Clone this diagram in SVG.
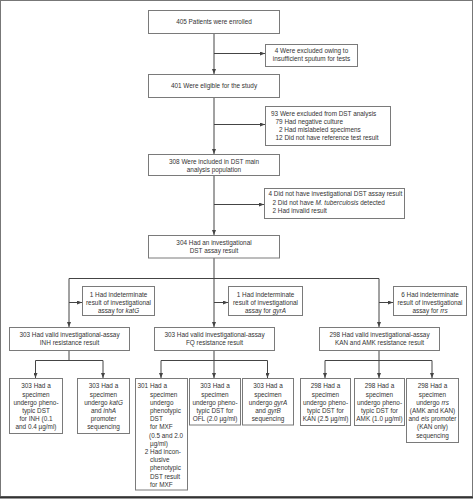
<svg xmlns="http://www.w3.org/2000/svg" width="476" height="500" viewBox="0 0 476 500">
<style>
.box{fill:#fff;stroke:#7a7a7a;stroke-width:1}
.t{font-family:"Liberation Sans",Arial,sans-serif;font-size:6.4px;fill:#333}
.c{text-anchor:middle}
.ln{stroke:#444;stroke-width:1;fill:none}
.i{font-style:italic}
</style>
<defs>
<marker id="a" markerWidth="5" markerHeight="4" refX="5" refY="2" orient="auto" markerUnits="userSpaceOnUse"><path d="M0,0 L5,2 L0,4 z" fill="#444"/></marker>
</defs>
<rect x="0.5" y="0.5" width="472" height="496" fill="#fff" stroke="#777" stroke-width="1"/>
<line x1="0" y1="497.5" x2="473" y2="497.5" stroke="#333" stroke-width="2"/>

<g id="connectors" class="ln">
<path d="M214,33 V74" marker-end="url(#a)"/>
<path d="M214,53.5 H265" marker-end="url(#a)"/>
<path d="M214,97 V154" marker-end="url(#a)"/>
<path d="M214,124.5 H265" marker-end="url(#a)"/>
<path d="M214,175 V235" marker-end="url(#a)"/>
<path d="M214,204.5 H264" marker-end="url(#a)"/>
<path d="M214,258 V327" marker-end="url(#a)"/>
<path d="M69,278.5 H379"/>
<path d="M69,278.5 V327" marker-end="url(#a)"/>
<path d="M379,278.5 V327" marker-end="url(#a)"/>
<path d="M69,302.5 H82" marker-end="url(#a)"/>
<path d="M214,302.5 H228" marker-end="url(#a)"/>
<path d="M379,302.5 H393" marker-end="url(#a)"/>
<path d="M69,350 V360.5"/>
<path d="M35.5,360.5 H103"/>
<path d="M35.5,360.5 V378" marker-end="url(#a)"/>
<path d="M103,360.5 V378" marker-end="url(#a)"/>
<path d="M161,360.5 H267.5"/>
<path d="M161,360.5 V378" marker-end="url(#a)"/>
<path d="M214,350 V378" marker-end="url(#a)"/>
<path d="M267.5,360.5 V378" marker-end="url(#a)"/>
<path d="M379,350 V378" marker-end="url(#a)"/>
<path d="M325,360.5 H432"/>
<path d="M325,360.5 V378" marker-end="url(#a)"/>
<path d="M432,360.5 V378" marker-end="url(#a)"/>
</g>

<g id="n1"><rect class="box" x="148.5" y="10.5" width="131" height="23"/>
<text class="t c" x="214" y="23.8">405 Patients were enrolled</text></g>

<g id="n2"><rect class="box" x="265.5" y="44.5" width="92" height="22"/>
<text class="t c" x="311.5" y="53.2">4 Were excluded owing to</text>
<text class="t c" x="311.5" y="61.4">insufficient sputum for tests</text></g>

<g id="n3"><rect class="box" x="148.5" y="74.5" width="131" height="23"/>
<text class="t c" x="214" y="87.8">401 Were eligible for the study</text></g>

<g id="n4"><rect class="box" x="265.5" y="106.5" width="125" height="39"/>
<text class="t" x="271" y="115.6">93 Were excluded from DST analysis</text>
<text class="t" x="275.5" y="123.8">79 Had negative culture</text>
<text class="t" x="279" y="132">2 Had mislabeled specimens</text>
<text class="t" x="275.5" y="140.2">12 Did not have reference test result</text></g>

<g id="n5"><rect class="box" x="148.5" y="154.5" width="131" height="21"/>
<text class="t c" x="214" y="164">308 Were included in DST main</text>
<text class="t c" x="214" y="172.3">analysis population</text></g>

<g id="n6"><rect class="box" x="264.5" y="188.5" width="140" height="30"/>
<text class="t" x="268.5" y="196.3">4 Did not have investigational DST assay result</text>
<text class="t" x="272.5" y="204.5">2 Did not have <tspan class="i">M. tuberculosis</tspan> detected</text>
<text class="t" x="272.5" y="212.7">2 Had invalid result</text></g>

<g id="n7"><rect class="box" x="148.5" y="235.5" width="131" height="22.5"/>
<text class="t c" x="214" y="245">304 Had an investigational</text>
<text class="t c" x="214" y="253.2">DST assay result</text></g>

<g id="n8"><rect class="box" x="82.5" y="286.5" width="72" height="29"/>
<text class="t c" x="118.5" y="296.5">1 Had indeterminate</text>
<text class="t c" x="118.5" y="304.5">result of investigational</text>
<text class="t c" x="118.5" y="312.5">assay for <tspan class="i">katG</tspan></text></g>

<g id="n9"><rect class="box" x="228.5" y="286.5" width="74" height="29"/>
<text class="t c" x="265.5" y="296.5">1 Had indeterminate</text>
<text class="t c" x="265.5" y="304.5">result of investigational</text>
<text class="t c" x="265.5" y="312.5">assay for <tspan class="i">gyrA</tspan></text></g>

<g id="n10"><rect class="box" x="393.5" y="286.5" width="73" height="29"/>
<text class="t c" x="430" y="296.5">6 Had indeterminate</text>
<text class="t c" x="430" y="304.5">result of investigational</text>
<text class="t c" x="430" y="312.5">assay for <tspan class="i">rrs</tspan></text></g>

<g id="n11"><rect class="box" x="9.5" y="327.5" width="120" height="23"/>
<text class="t c" x="69.5" y="336.5">303 Had valid investigational-assay</text>
<text class="t c" x="69.5" y="344.7">INH resistance result</text></g>

<g id="n12"><rect class="box" x="154.5" y="327.5" width="120" height="23"/>
<text class="t c" x="214.5" y="336.5">303 Had valid investigational-assay</text>
<text class="t c" x="214.5" y="344.7">FQ resistance result</text></g>

<g id="n13"><rect class="box" x="319.5" y="327.5" width="120" height="23"/>
<text class="t c" x="379.5" y="336.5">298 Had valid investigational-assay</text>
<text class="t c" x="379.5" y="344.7">KAN and AMK resistance result</text></g>

<g id="n14"><rect class="box" x="9.5" y="378.5" width="53" height="55"/>
<text class="t c" x="36" y="388.3">303 Had a</text>
<text class="t c" x="36" y="396.5">specimen</text>
<text class="t c" x="36" y="404.7">undergo pheno-</text>
<text class="t c" x="36" y="412.9">typic DST</text>
<text class="t c" x="36" y="421.1">for INH (0.1</text>
<text class="t c" x="36" y="429.3">and 0.4 µg/ml)</text></g>

<g id="n15"><rect class="box" x="77.5" y="378.5" width="52" height="55"/>
<text class="t c" x="103.5" y="388.3">303 Had a</text>
<text class="t c" x="103.5" y="396.5">specimen</text>
<text class="t c" x="103.5" y="404.7">undergo <tspan class="i">katG</tspan></text>
<text class="t c" x="103.5" y="412.9">and <tspan class="i">inhA</tspan></text>
<text class="t c" x="103.5" y="421.1">promoter</text>
<text class="t c" x="103.5" y="429.3">sequencing</text></g>

<g id="n16"><rect class="box" x="135.5" y="378.5" width="52" height="111.5"/>
<text class="t" x="137.5" y="388.3">301 Had a</text>
<text class="t" x="150" y="396.5">specimen</text>
<text class="t" x="150" y="404.7">undergo</text>
<text class="t" x="150" y="412.9">phenotypic</text>
<text class="t" x="150" y="421.1">DST</text>
<text class="t" x="150" y="429.3">for MXF</text>
<text class="t" x="149" y="437.5">(0.5 and 2.0</text>
<text class="t" x="150" y="445.7">µg/ml)</text>
<text class="t" x="144.7" y="453.9">2 Had incon-</text>
<text class="t" x="150" y="462.1">clusive</text>
<text class="t" x="150" y="470.3">phenotypic</text>
<text class="t" x="150" y="478.5">DST result</text>
<text class="t" x="150" y="486.7">for MXF</text></g>

<g id="n17"><rect class="box" x="189.5" y="378.5" width="51" height="46.5"/>
<text class="t c" x="215" y="388.3">303 Had a</text>
<text class="t c" x="215" y="396.5">specimen</text>
<text class="t c" x="215" y="404.7">undergo pheno-</text>
<text class="t c" x="215" y="412.9">typic DST for</text>
<text class="t c" x="215" y="421.1">OFL (2.0 µg/ml)</text></g>

<g id="n18"><rect class="box" x="242.5" y="378.5" width="51" height="46.5"/>
<text class="t c" x="268" y="388.3">303 Had a</text>
<text class="t c" x="268" y="396.5">specimen</text>
<text class="t c" x="268" y="404.7">undergo <tspan class="i">gyrA</tspan></text>
<text class="t c" x="268" y="412.9">and <tspan class="i">gyrB</tspan></text>
<text class="t c" x="268" y="421.1">sequencing</text></g>

<g id="n19"><rect class="box" x="300.5" y="378.5" width="50" height="47"/>
<text class="t c" x="325.5" y="388.3">298 Had a</text>
<text class="t c" x="325.5" y="396.5">specimen</text>
<text class="t c" x="325.5" y="404.7">undergo pheno-</text>
<text class="t c" x="325.5" y="412.9">typic DST for</text>
<text class="t c" x="325.5" y="421.1">KAN (2.5 µg/ml)</text></g>

<g id="n20"><rect class="box" x="354.5" y="378.5" width="50" height="47"/>
<text class="t c" x="379.5" y="388.3">298 Had a</text>
<text class="t c" x="379.5" y="396.5">specimen</text>
<text class="t c" x="379.5" y="404.7">undergo pheno-</text>
<text class="t c" x="379.5" y="412.9">typic DST for</text>
<text class="t c" x="379.5" y="421.1">AMK (1.0 µg/ml)</text></g>

<g id="n21"><rect class="box" x="406.5" y="378.5" width="52" height="64"/>
<text class="t c" x="432.5" y="388.3">298 Had a</text>
<text class="t c" x="432.5" y="396.5">specimen</text>
<text class="t c" x="432.5" y="404.7">undergo <tspan class="i">rrs</tspan></text>
<text class="t c" x="432.5" y="412.9">(AMK and KAN)</text>
<text class="t c" x="432.5" y="421.1">and <tspan class="i">eis</tspan> promoter</text>
<text class="t c" x="432.5" y="429.3">(KAN only)</text>
<text class="t c" x="432.5" y="437.5">sequencing</text></g>
</svg>
